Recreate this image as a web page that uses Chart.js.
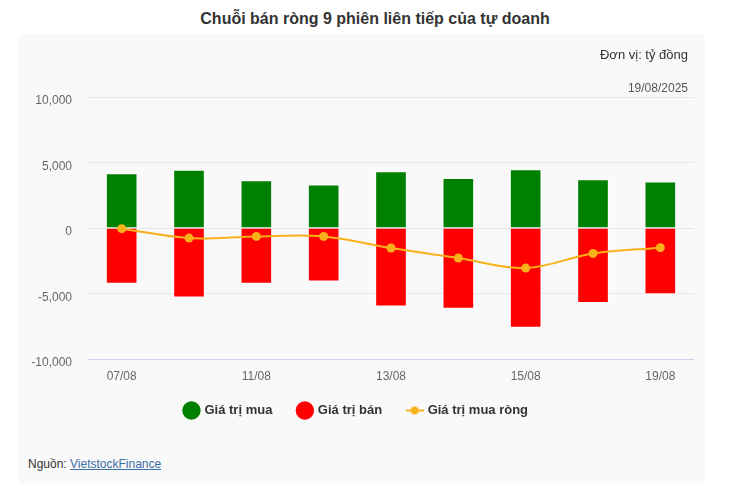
<!DOCTYPE html>
<html lang="vi">
<head>
<meta charset="UTF-8">
<title>Chuỗi bán ròng 9 phiên liên tiếp của tự doanh</title>
<script src="https://cdn.jsdelivr.net/npm/chart.js"></script>
<style>
  body { margin: 0; background: #fff; font-family: "Liberation Sans", Arial, sans-serif; }
  #wrap { position: relative; width: 750px; height: 497px; }
  #title { position: absolute; left: 0; top: 10px; width: 750px; text-align: center;
           font-size: 16px; font-weight: bold; color: #333; }
  #panel { position: absolute; left: 19px; top: 34px; width: 686px; height: 450px; background: #f9f9f9; }
  #chartBox { position: absolute; left: 0; top: 0; width: 686px; height: 400px; }
  .note { position: absolute; right: 17px; color: #333; white-space: nowrap; }
  #unit { top: 13px; font-size: 13px; }
  #date { top: 47px; font-size: 12px; color: #555; }
  #source { position: absolute; left: 9px; top: 423px; font-size: 12px; color: #333; }
  #source a { color: #3a6ea5; text-decoration: underline; }
</style>
</head>
<body>
<div id="wrap">
  <div id="title">Chuỗi bán ròng 9 phiên liên tiếp của tự doanh</div>
  <div id="panel">
    <div id="chartBox"><canvas id="chart" width="686" height="400"></canvas></div>
    <div class="note" id="unit">Đơn vị: tỷ đồng</div>
    <div class="note" id="date">19/08/2025</div>
    <div id="source">Nguồn: <a href="#">VietstockFinance</a></div>
  </div>
</div>
<script>
// dữ liệu (tỷ đồng)
var dates = ['07/08', '08/08', '11/08', '12/08', '13/08', '14/08', '15/08', '18/08', '19/08'];
var buyValues = [4170, 4440, 3650, 3320, 4340, 3810, 4490, 3730, 3550];
var sellValues = [-4250, -5300, -4260, -4080, -5990, -6170, -7620, -5730, -5050];
var netValues = [-50, -770, -640, -640, -1530, -2290, -3060, -1940, -1500];
var shownDates = ['07/08', '11/08', '13/08', '15/08', '19/08'];
var yTicks = [-10000, -5000, 0, 5000, 10000];

var lineColor = '#f9b11b';

// ký hiệu chú thích cho đường: đoạn thẳng + chấm tròn
var lineIcon = document.createElement('canvas');
lineIcon.width = 18; lineIcon.height = 10;
var ic = lineIcon.getContext('2d');
ic.strokeStyle = lineColor; ic.lineWidth = 2;
ic.beginPath(); ic.moveTo(0, 5); ic.lineTo(18, 5); ic.stroke();
ic.fillStyle = lineColor;
ic.beginPath(); ic.arc(9, 5, 4, 0, Math.PI * 2); ic.fill();

// kéo chú thích lên gần trục x hơn
var legendShift = {
  id: 'legendShift',
  afterLayout: function (chart) {
    chart.legend.top -= 7;
    chart.legend.bottom -= 7;
  }
};

Chart.defaults.font.family = '"Liberation Sans", Arial, sans-serif';
Chart.defaults.animation = false;

var ctx = document.getElementById('chart').getContext('2d');
new Chart(ctx, {
  data: {
    labels: dates,
    datasets: [
      { type: 'bar', label: 'Giá trị mua', data: buyValues, backgroundColor: '#008000',
        borderColor: 'rgba(255,255,255,0.6)', borderWidth: 1, grouped: false, order: 2,
        categoryPercentage: 1, barPercentage: 0.47 },
      { type: 'bar', label: 'Giá trị bán', data: sellValues, backgroundColor: '#ff0000',
        borderColor: 'rgba(255,255,255,0.6)', borderWidth: 1, grouped: false, order: 2,
        categoryPercentage: 1, barPercentage: 0.47 },
      { type: 'line', label: 'Giá trị mua ròng', data: netValues, borderColor: lineColor,
        backgroundColor: lineColor, borderWidth: 2, tension: 0.35, pointRadius: 4.5,
        pointBorderWidth: 0, fill: false, order: 0 }
    ]
  },
  plugins: [legendShift],
  options: {
    responsive: false,
    layout: { padding: { left: 0, right: 11, top: 63, bottom: 0 } },
    plugins: {
      tooltip: { enabled: false },
      legend: {
        position: 'bottom',
        labels: {
          usePointStyle: true, boxWidth: 13, boxHeight: 13, padding: 26,
          color: '#333', font: { size: 13, weight: 'bold' },
          sort: function (a, b) { return a.datasetIndex - b.datasetIndex; },
          generateLabels: function (chart) {
            var items = Chart.defaults.plugins.legend.labels.generateLabels(chart);
            items.forEach(function (it) {
              if (it.datasetIndex === 2) { it.pointStyle = lineIcon; }
              else { it.pointStyle = 'circle'; it.lineWidth = 0; }
            });
            return items;
          }
        }
      }
    },
    scales: {
      x: {
        grid: { display: false, drawTicks: false },
        border: { display: false },
        ticks: {
          autoSkip: false, maxRotation: 0, color: '#666', font: { size: 12 }, padding: 10,
          callback: function (v, i) { var d = dates[i]; return shownDates.indexOf(d) >= 0 ? d : ''; }
        },
        afterFit: function (s) { s.height = 26; }
      },
      y: {
        min: -10000, max: 10000,
        afterBuildTicks: function (s) { s.ticks = yTicks.map(function (v) { return { value: v }; }); },
        grid: {
          color: function (c) { return c.tick && c.tick.value === -10000 ? '#ccd6eb' : '#e6e6e6'; },
          drawTicks: false
        },
        border: { display: false },
        ticks: {
          color: '#666', font: { size: 12 }, padding: 16, labelOffset: 4,
          callback: function (v) { return v.toLocaleString('en-US'); }
        },
        afterFit: function (s) { s.width = 69; }
      }
    }
  }
});
</script>
</body>
</html>
